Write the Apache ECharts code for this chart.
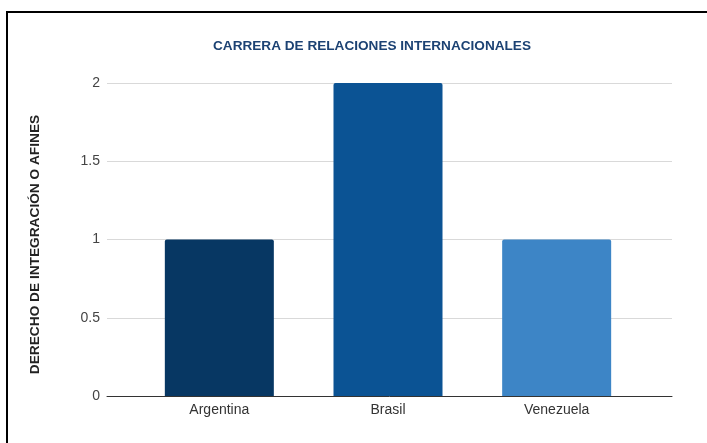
<!DOCTYPE html>
<html>
<head>
<meta charset="utf-8">
<script src="https://cdn.jsdelivr.net/npm/echarts@6/dist/echarts.min.js"></script>
<style>
    html, body { margin: 0; padding: 0; background: #fff; }
    #frame { position: absolute; left: 6px; top: 11px; width: 720px; height: 460px; border: 2px solid #000; box-sizing: border-box; }
    #chart { position: absolute; left: 0; top: 0; width: 707px; height: 443px; }
</style>
</head>
<body>
<div id="frame"></div>
<div id="chart"></div>
<script>
var categories = ["Argentina", "Brasil", "Venezuela"];
var values = [1, 2, 1];
var barColors = ["#073763", "#0b5394", "#3d85c6"];
var yTicks = [0, 0.5, 1, 1.5, 2];

var font = "'Liberation Sans', Arial, sans-serif";
var c = echarts.init(document.getElementById("chart"));

var option = {
    animation: false,
    textStyle: { fontFamily: font },
    title: {
        text: "CARRERA DE RELACIONES INTERNACIONALES",
        left: 367,
        top: 34,
        textAlign: "center",
        textStyle: { fontSize: 13.6, fontWeight: "bold", color: "#1c4273", fontFamily: font }
    },
    grid: [
        { left: 107, right: 35, top: 83, bottom: 47 },
        { left: 135, right: 66, top: 83, bottom: 47 }
    ],
    xAxis: [
        {
            gridIndex: 0,
            type: "category",
            data: categories,
            axisLine: { lineStyle: { color: "#333", width: 1 } },
            axisTick: { show: false },
            axisLabel: { show: false }
        },
        {
            gridIndex: 1,
            type: "category",
            data: categories,
            axisLine: { show: false },
            axisTick: { show: false },
            axisLabel: { color: "#333", fontSize: 14, margin: 7, fontFamily: font }
        }
    ],
    yAxis: [
        {
            gridIndex: 0,
            type: "value",
            min: yTicks[0],
            max: yTicks[yTicks.length - 1],
            interval: 0.5,
            name: "DERECHO DE INTEGRACIÓN O AFINES",
            nameLocation: "middle",
            nameGap: 65,
            nameTextStyle: { fontSize: 13.7, fontWeight: "bold", color: "#222", fontFamily: font, padding: [0, 10, 0, 0] },
            axisLine: { show: false },
            axisTick: { show: false },
            axisLabel: { color: "#444", fontSize: 14, margin: 7, fontFamily: font },
            splitLine: { lineStyle: { color: "#d9d9d9", width: 1 } }
        },
        {
            gridIndex: 1,
            type: "value",
            min: yTicks[0],
            max: yTicks[yTicks.length - 1],
            interval: 0.5,
            show: false,
            splitLine: { show: false }
        }
    ],
    series: [{
        type: "bar",
        xAxisIndex: 1,
        yAxisIndex: 1,
        barWidth: 109,
        data: values.map(function (v, i) {
            return { value: v, itemStyle: { color: barColors[i], borderRadius: [2, 2, 0, 0] } };
        }),
        z: 3
    }]
};

c.setOption(option);
</script>
</body>
</html>
